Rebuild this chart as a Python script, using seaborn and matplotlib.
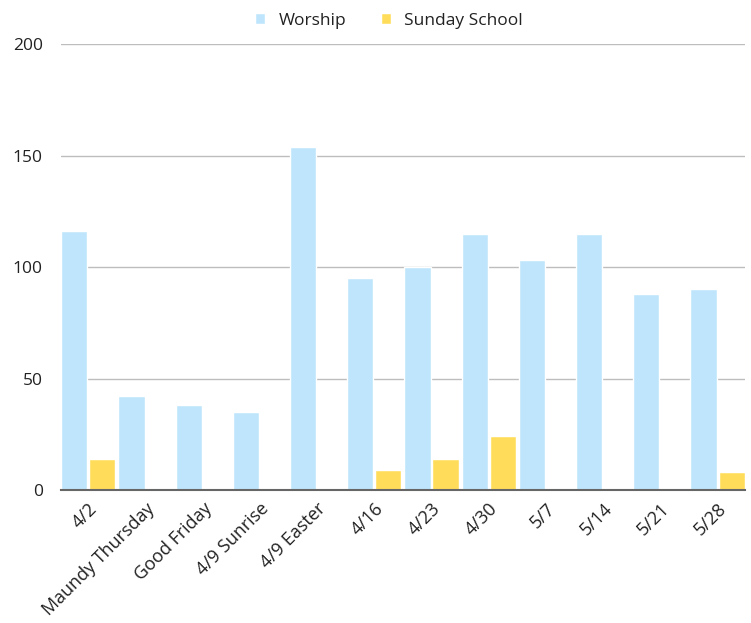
import pandas as pd
import matplotlib.pyplot as plt
import seaborn as sns

# donnees
services = ["4/2", "Maundy Thursday", "Good Friday", "4/9 Sunrise", "4/9 Easter",
            "4/16", "4/23", "4/30", "5/7", "5/14", "5/21", "5/28"]
worship = [116, 42, 38, 35, 154, 95, 100, 115, 103, 115, 88, 90]
sunday_school = [14, 0, 0, 0, 0, 9, 14, 24, 0, 0, 0, 8]

data = pd.DataFrame({
    "service": services * 2,
    "count": worship + sunday_school,
    "serie": ["Worship"] * len(services) + ["Sunday School"] * len(services),
})

sns.set_style("white")
plt.rcParams["font.family"] = ["Open Sans", "DejaVu Sans"]

fig = plt.figure(figsize=(7.51, 6.23), dpi=100)
ax = fig.add_axes([0.081, 0.2135, 0.911, 0.7155])

sns.barplot(data=data, x="service", y="count", hue="serie",
            palette={"Worship": "#BFE5FC", "Sunday School": "#FFDD5B"},
            width=0.98, gap=0.07, ax=ax, saturation=1)

ax.set_ylim(0, 200)
ax.set_xlim(-0.48, 11.48)
ax.set_yticks([0, 50, 100, 150, 200])
ax.yaxis.grid(True, color="#BDBDBD", linewidth=1)
ax.set_axisbelow(True)
for s in ["top", "right", "left"]:
    ax.spines[s].set_visible(False)
ax.spines["bottom"].set_color("#666666")
ax.spines["bottom"].set_linewidth(1.5)
ax.set_xlabel("")
ax.set_ylabel("")
ax.tick_params(axis="y", length=0, pad=13, labelsize=12.5, labelcolor="#222222")
ax.tick_params(axis="x", length=0, pad=7, labelsize=13, labelcolor="#222222")
plt.setp(ax.get_xticklabels(), rotation=45, ha="right", rotation_mode="anchor")

ax.legend(loc="lower center", bbox_to_anchor=(0.48, 1.0), ncol=2, frameon=False,
          fontsize=12.5, handlelength=0.55, handleheight=0.55, columnspacing=2.0,
          handletextpad=0.8, labelcolor="#222222")

plt.savefig("out.png")
